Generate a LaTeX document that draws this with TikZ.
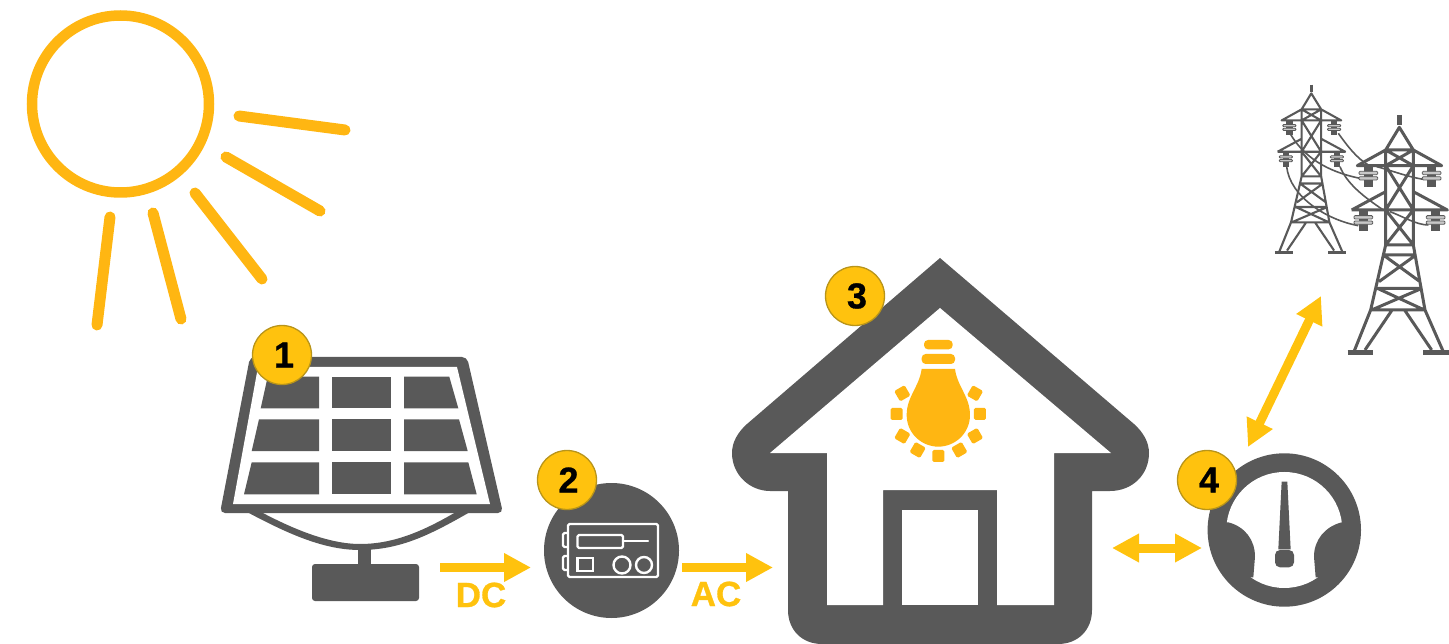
\documentclass[tikz,border=0pt]{standalone}
\usepackage{fontspec}
\setmainfont{Liberation Sans}
\newfontfamily\heavyfont{Liberation Sans}[UprightFont=* Bold,FakeBold=0.8]
\usetikzlibrary{arrows.meta}
\definecolor{dk}{HTML}{595959}
\definecolor{sunc}{HTML}{FFB612}
\definecolor{arr}{HTML}{FFC20E}
\definecolor{badgef}{HTML}{FFC20E}
\definecolor{badged}{HTML}{B8941A}
\tikzset{
  badge/.style={circle,fill=badgef,draw=badged,line width=1.3pt,minimum size=59pt,inner sep=0pt,font=\fontsize{36}{36}\heavyfont,text=black},
  ray/.style={draw=sunc,line width=11pt,line cap=round},
  flow/.style={draw=arr,line width=9pt,-{Triangle[length=27pt,width=27pt]}},
  flowboth/.style={draw=arr,line width=9pt,{Triangle[length=27pt,width=27pt]}-{Triangle[length=27pt,width=27pt]}},
  flowlabel/.style={text=arr,font=\fontsize{35}{35}\heavyfont,inner sep=0pt},
  cell/.style={fill=dk},
  twire/.style={draw=dk,line width=1.6pt},
  invline/.style={draw=white,line width=2.4pt,line join=round,rounded corners=1.5pt},
}
\newcommand{\insul}[2]{%
  \fill[dk] (#1-14,#2) rectangle (#1+14,#2+63);
  \fill[black!22,draw=dk,line width=.8pt,rounded corners=1pt] (#1-28,#2+17) rectangle (#1+28,#2+27);
  \fill[black!22,draw=dk,line width=.8pt,rounded corners=1pt] (#1-28,#2+33) rectangle (#1+28,#2+43);
}
\newcommand{\towerfig}[1]{%
  \draw[dk,line width=#1,line join=round]
    (437,240)--(478,172)--(520,240)
    (352,287)--(437,240)--(520,240)--(605,287)--cycle
    (335,420)--(437,365) (520,365)--(622,420)--(335,420)
    (437,240)--(437,525) (520,240)--(520,525)
    (437,240)--(520,287) (520,240)--(437,287)
    (437,287)--(520,420) (520,287)--(437,420)
    (437,420)--(520,525) (520,420)--(437,525)
    (437,525)--(520,525) (437,525)--(392,720) (520,525)--(555,720)
    (430,555)--(528,555) (430,555)--(540,635) (528,555)--(417,635)
    (412,655)--(546,655) (412,655)--(553,720) (546,655)--(395,720)
    (392,720)--(555,720)
    (392,720)--(342,845) (555,720)--(610,845)
    (455,722)--(375,840) (495,722)--(575,840);
  \draw[dk,line width=1.6*#1] (478,135)--(478,165) (323,848)--(400,848) (550,848)--(627,848);
  \insul{385}{287}\insul{575}{287}\insul{370}{420}\insul{587}{420}
}
\begin{document}
\begin{tikzpicture}[x=1pt,y=-1pt]
\useasboundingbox (0,0) rectangle (1449,644);
% sun
\draw[sunc,line width=10.5pt] (120.5,104) circle (88.5);
\coordinate (r1a) at (239,116); \coordinate (r1b) at (345,130);
\coordinate (r2a) at (226,157); \coordinate (r2b) at (320,211);
\coordinate (r3a) at (195,193); \coordinate (r3b) at (262,279);
\coordinate (r4a) at (153,213); \coordinate (r4b) at (181,319);
\coordinate (r5a) at (110,217); \coordinate (r5b) at (97,325);
\draw[ray] (r1a)--(r1b); \draw[ray] (r2a)--(r2b); \draw[ray] (r3a)--(r3b);
\draw[ray] (r4a)--(r4b); \draw[ray] (r5a)--(r5b);
% solar panel
\fill[dk] (247,512) .. controls (290,535) and (325,550) .. (360,550) .. controls (400,550) and (430,535) .. (470,512) -- (456,512) .. controls (425,530) and (395,544) .. (360,544) .. controls (330,544) and (295,530) .. (261,512) -- cycle;
\fill[dk,rounded corners=5pt] (250,357) -- (467,357) -- (503,513) -- (220,513) -- cycle;
\fill[white] (258,367) -- (457,367) -- (490,504) -- (233,504) -- cycle;
\fill[cell] (267.7,376.7)--(319,376.7)--(319,408.3)--(260.7,408.3)--cycle;
\fill[cell] (332.3,376.7) rectangle (391,408.3);
\fill[cell] (404,376.7)--(449.3,376.7)--(458.3,408.3)--(404,408.3)--cycle;
\fill[cell] (259,419.3)--(319,419.3)--(319,451)--(251.7,451)--cycle;
\fill[cell] (332.3,419.3) rectangle (391,451);
\fill[cell] (404,419.3)--(459,419.3)--(467.7,451)--(404,451)--cycle;
\fill[cell] (251.7,462.3)--(319,462.3)--(319,494.3)--(244,494.3)--cycle;
\fill[cell] (332.3,462.3) rectangle (391,494.3);
\fill[cell] (404,462.3)--(468.3,462.3)--(476.7,494.3)--(404,494.3)--cycle;
\fill[dk] (358,548) rectangle (371,566);
\fill[dk,rounded corners=3pt] (312,564) rectangle (419,601);
% inverter
\fill[dk] (611.5,550.5) circle (67.5);
\draw[invline] (568,524) rectangle (658,577);
\draw[invline] (568,533) -- (563,533) -- (563,547) -- (568,547);
\draw[invline] (568,556) -- (563,556) -- (563,570) -- (568,570);
\draw[invline] (577.5,535) rectangle (623,548);
\draw[white,line width=2.4pt,line cap=round] (623,541) -- (648,541);
\draw[white,line width=2.4pt] (577.5,558) rectangle (593,571);
\draw[white,line width=2.4pt] (622,565) circle (8.5);
\draw[white,line width=2.4pt] (644,565) circle (8);
% house
\fill[dk] (940,258) -- (747,424) .. controls (738,432) and (732,442) .. (732,453)
  .. controls (732,475) and (750,491) .. (770,491) -- (788,491) -- (788,610)
  .. controls (788,630) and (802,644) .. (822,644) -- (1058,644)
  .. controls (1078,644) and (1092,630) .. (1092,610) -- (1092,491) -- (1110,491)
  .. controls (1132,491) and (1149,475) .. (1149,453)
  .. controls (1149,442) and (1143,432) .. (1134,424) -- cycle;
\fill[white] (940,308) -- (770,453) -- (827,453) -- (827,605) -- (883,605) -- (883,490) -- (997,490) -- (997,605) -- (1054,605) -- (1054,453) -- (1111,453) -- cycle;
\fill[white] (902,510) rectangle (978,605);
% bulb
\begin{scope}[shift={(870,330)},x=.3333pt,y=-.3333pt]
  \fill[sunc,rounded corners=4pt] (162,30) rectangle (248,58);
  \fill[sunc,rounded corners=4pt] (155,72) rectangle (255,102);
  \fill[sunc] (155,117) -- (255,117) .. controls (262,170) and (300,200) .. (300,255)
     .. controls (300,310) and (255,350) .. (205,350)
     .. controls (155,350) and (110,310) .. (110,255)
     .. controls (110,200) and (148,170) .. (155,117) -- cycle;
  \foreach \px/\py/\ang in {80/252/0,97/190/30,97/318/-30,143/360/-30,205/378/0,268/360/30,315/318/30,330/252/0,315/190/-30}{
    \fill[sunc,rounded corners=1.5pt,shift={(\px,\py)},rotate=\ang] (-18,-18) -- (18,-18) -- (18,18) -- (-18,18) -- cycle;
  }
\end{scope}
% meter
\fill[dk] (1284.3,530) circle (76.7);
\begin{scope}[shift={(1170,440)},x=.3333pt,y=-.3333pt]
  \fill[white] (343,270) circle (174);
  \fill[dk] (175,247) .. controls (225,260) and (255,300) .. (255,350) -- (250,412) -- (170,412) -- (125,300) -- (150,247) -- cycle;
  \fill[dk] (515,247) .. controls (465,260) and (432,300) .. (432,350) -- (437,412) -- (516,412) -- (560,300) -- (535,247) -- cycle;
  \fill[dk] (335,125) -- (352,125) -- (362,328) -- (325,328) -- cycle;
  \fill[dk,rounded corners=5pt] (315,330) rectangle (372,382);
\end{scope}
% towers
\begin{scope}[shift={(1240,70)},x=.3333pt,y=-.3333pt]
  \draw[twire] (150,190) .. controls (190,260) and (260,305) .. (360,325);
  \draw[twire] (295,190) .. controls (320,225) and (350,265) .. (385,285);
  \draw[twire] (140,290) .. controls (150,380) and (260,450) .. (355,467);
  \draw[twire] (300,290) .. controls (320,340) and (370,380) .. (430,420);
  \draw[twire] (410,290) .. controls (450,300) and (500,320) .. (550,328);
  \draw[twire] (450,425) .. controls (490,440) and (530,465) .. (565,465);
\end{scope}
\begin{scope}[shift={(1198.8,52.9)},x=.2353pt,y=-.2353pt]
  \towerfig{2.1pt}
\end{scope}
\begin{scope}[shift={(1240,70)},x=.3333pt,y=-.3333pt]
  \towerfig{3pt}
\end{scope}
% connectors
\coordinate (dcA) at (440,567.5); \coordinate (dcB) at (531,567.5);
\coordinate (acA) at (682,567.5); \coordinate (acB) at (773,567.5);
\coordinate (hmA) at (1112,548); \coordinate (hmB) at (1202,548);
\coordinate (mtA) at (1248,447); \coordinate (mtB) at (1321,296);
\draw[flow] (dcA) -- (dcB);
\draw[flow] (acA) -- (acB);
\draw[flowboth] (hmA) -- (hmB);
\draw[flowboth] (mtA) -- (mtB);
\node[flowlabel] (dcl) at (481,595) {DC};
\node[flowlabel] (acl) at (716,594) {AC};
% badges
\node[badge] (b1) at (282,355) {\hspace*{4pt}1};
\node[badge] (b2) at (567,480) {\hspace*{3pt}2};
\node[badge] (b3) at (855,296) {\hspace*{4pt}3};
\node[badge] (b4) at (1207,480) {\hspace*{4pt}4};
\end{tikzpicture}
\end{document}
